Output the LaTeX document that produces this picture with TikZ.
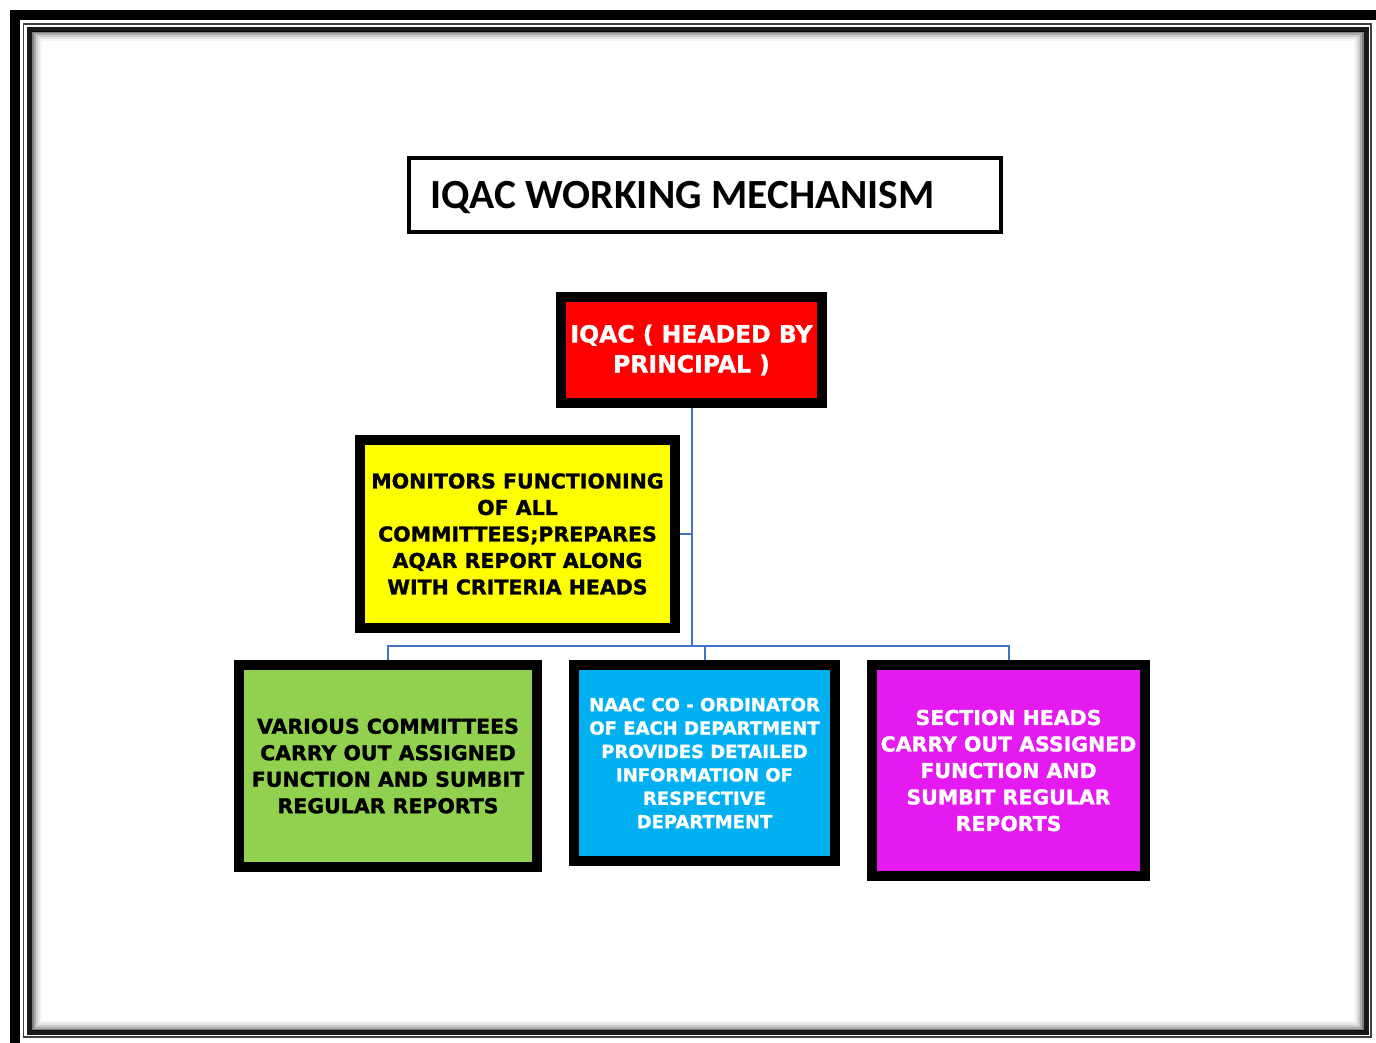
\documentclass[tikz,border=0pt]{standalone}
\usepackage{fontspec}
\newfontfamily\boxfont{DejaVu Sans}[BoldFeatures={FakeBold=1.3}]
\newfontfamily\titlefont{Carlito}
\definecolor{boxred}{RGB}{255,0,0}
\definecolor{boxyellow}{RGB}{255,255,0}
\definecolor{boxgreen}{RGB}{146,208,80}
\definecolor{boxblue}{RGB}{0,176,240}
\definecolor{boxmagenta}{RGB}{228,26,240}
\definecolor{linkblue}{RGB}{68,114,196}
\tikzset{
  x=1pt, y=-1pt,
  unit/.style={draw=black, line width=10pt, align=center, inner sep=0pt,
    font=\boxfont\bfseries\fontsize{20.5}{26.5}\selectfont},
  conn/.style={draw=linkblue, line width=2pt},
}
\begin{document}
\begin{tikzpicture}
\clip (0,0) rectangle (1376,1043);
\fill[white] (0,0) rectangle (1376,1043);

% page frame: heavy outer rule, thin rule, shaded inner rule
\draw[black, line width=10pt] (15,15) rectangle (1400,1070);
\draw[black!75, line width=1.5pt] (23.5,24) rectangle (1371,1037);
\draw[black!90, line width=5pt] (29.5,29.5) rectangle (1366,1032.5);
\foreach \d/\o in {3/0.5,5/0.33,7/0.2,9/0.1,11/0.04}{
  \draw[black, opacity=\o, line width=2pt]
    (29.5+\d,29.5+\d) rectangle (1366-\d,1032.5-\d);
}

% title
\node[draw=black, line width=4pt, minimum width=592pt, minimum height=74pt,
      inner sep=0pt] (title) at (705,195) {};
\node[anchor=base west, inner sep=0pt,
      font=\titlefont\bfseries\fontsize{41.5}{48}\selectfont]
      (titletext) at (430,209) {IQAC WORKING MECHANISM};

% boxes
\node[unit, fill=boxred, text=white, minimum width=261pt, minimum height=106pt,
      font=\boxfont\bfseries\fontsize{23.5}{30}\selectfont]
  (iqac) at (691.5,350) {IQAC ( HEADED BY\\PRINCIPAL )};

\node[unit, fill=boxyellow, text=black, minimum width=315pt, minimum height=188pt]
  (monitor) at (517.5,534)
  {MONITORS FUNCTIONING\\OF ALL\\COMMITTEES;PREPARES\\AQAR REPORT ALONG\\WITH CRITERIA HEADS};

\node[unit, fill=boxgreen, text=black, minimum width=298pt, minimum height=202pt]
  (committees) at (388,766)
  {VARIOUS COMMITTEES\\CARRY OUT ASSIGNED\\FUNCTION AND SUMBIT\\REGULAR REPORTS};

\node[unit, fill=boxblue, text=white, minimum width=261pt, minimum height=196pt,
      font=\boxfont\bfseries\fontsize{18}{23.4}\selectfont]
  (naac) at (704.5,763)
  {NAAC CO - ORDINATOR\\OF EACH DEPARTMENT\\PROVIDES DETAILED\\INFORMATION OF\\RESPECTIVE\\DEPARTMENT};

\node[unit, fill=boxmagenta, text=white, minimum width=273pt, minimum height=211pt]
  (sections) at (1008.5,770.5)
  {SECTION HEADS\\CARRY OUT ASSIGNED\\FUNCTION AND\\SUMBIT REGULAR\\REPORTS};

% connectors
\coordinate (hub) at (691.5,646);
\draw[conn] (iqac.south) -- (hub);
\draw[conn] (monitor.east) -- (monitor.east -| hub);
\draw[conn] (committees.north) |- (hub) -| (sections.north);
\draw[conn] (hub -| naac.north) -- (naac.north);
\end{tikzpicture}
\end{document}
